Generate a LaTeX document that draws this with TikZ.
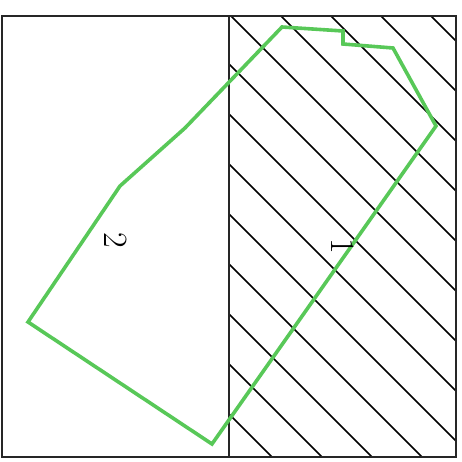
\documentclass[tikz,border=0pt]{standalone}
\usepackage{tikz}
\usetikzlibrary{calc}

\begin{document}
\begin{tikzpicture}[
    x=1pt, y=-1pt,
    frame/.style={draw=black!85, line width=2pt},
    hatchline/.style={draw=black, line width=1.5pt},
    border/.style={draw={rgb,255:red,88;green,200;blue,88}, line width=3.6pt, line join=miter},
    zone/.style={font=\fontsize{34}{34}\selectfont, rotate=-90, inner sep=0pt},
]
    \useasboundingbox (0,0) rectangle (461,462);

    % hatching of the right half
    \begin{scope}
        \clip (229,16) rectangle (456,457);
        \foreach \c in {-185,-135,...,415}
            \draw[hatchline] (\c,0) -- ({\c+480},480);
    \end{scope}

    % two halves
    \draw[frame] (2,16) rectangle (229,457);
    \draw[frame] (229,16) rectangle (456,457);

    % outline
    \draw[border]
        (28,322) -- (120,186) -- (185,128) -- (282,27) -- (343,31) -- (343,44)
        -- (393,48) -- (436,126) -- (212,444) -- cycle;

    \node[zone] (zone2) at (116,240) {2};
    \node[zone] (zone1) at (343,246) {1};
\end{tikzpicture}
\end{document}
